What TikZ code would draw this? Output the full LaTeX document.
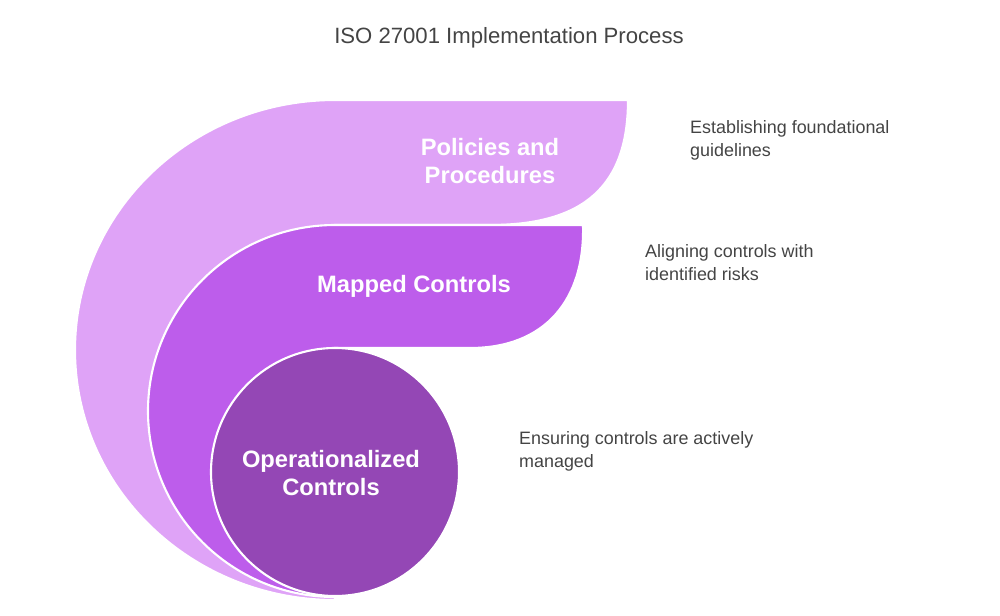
\documentclass[tikz,border=0pt]{standalone}
\usepackage{fontspec}
\setmainfont{Liberation Sans}
\definecolor{pLight}{HTML}{DFA3F7}
\definecolor{pMid}{HTML}{BD5DEB}
\definecolor{pDark}{HTML}{9447B5}
\definecolor{txtGray}{HTML}{444444}
\tikzset{
  band/.style={draw=white, line width=1.2pt},
  label/.style={text=white, font=\fontsize{13.5}{16}\selectfont\bfseries, align=center},
  note/.style={text=txtGray, font=\fontsize{10.2}{13}\selectfont, align=left, anchor=north west}
}
\begin{document}
\begin{tikzpicture}[x=0.02cm, y=-0.02cm]
				\useasboundingbox (0,0) rectangle (1000,615);

				% Title
				\node[text=txtGray, font=\fontsize{12.6}{15}\selectfont] (title) at (509,38) {ISO 27001 Implementation Process};

				% Policies band
				\draw[band, fill=pLight] (335,600) arc[start angle=90, end angle=270, x radius=260, y radius=250]
					-- (628,100) .. controls (628,185) and (585,225) .. (490,225) -- (335,225) -- cycle;

				% Mapped band
				\draw[band, fill=pMid] (335,597) arc[start angle=90, end angle=270, x radius=187, y radius=186]
					-- (583,225) .. controls (585,300) and (545,348) .. (470,348) -- (335,348) -- cycle;

				% Operationalized circle
				\draw[band, fill=pDark] (335,472) circle[radius=124];

				% Labels
				\node[label] (policies) at (490,161) {Policies and\\Procedures};
				\node[label] (mapped) at (414,286) {Mapped Controls};
				\node[label] (oper) at (331,473) {Operationalized\\Controls};

				% Notes
				\node[note] (notePol) at (684,114) {Establishing foundational\\guidelines};
				\node[note] (noteMap) at (639,238) {Aligning controls with\\identified risks};
				\node[note] (noteOp) at (513,425) {Ensuring controls are actively\\managed};
\end{tikzpicture}
\end{document}
